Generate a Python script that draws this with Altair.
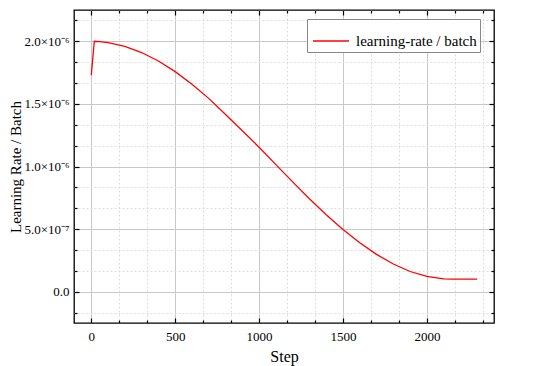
import altair as alt
import pandas as pd

steps = [0, 18, 50, 100, 200, 300, 400, 500, 600, 700, 800, 900, 1000, 1100, 1200,
         1300, 1400, 1500, 1600, 1700, 1800, 1900, 2000, 2100, 2150, 2200, 2300]
lr_e6 = [1.73, 2.0, 1.9975, 1.9899, 1.9602, 1.9102, 1.8423, 1.7575, 1.6577, 1.5441,
         1.4158, 1.2853, 1.1539, 1.0153, 0.8774, 0.7429, 0.6150, 0.4973, 0.3905,
         0.2982, 0.2211, 0.1613, 0.1229, 0.1026, 0.1000, 0.1000, 0.1000]
series_name = "learning-rate / batch"

x_major = [0, 500, 1000, 1500, 2000]
x_minor = [166.67, 333.33, 666.67, 833.33, 1166.67, 1333.33, 1666.67, 1833.33, 2166.67, 2333.33]
y_major = [0.0, 5e-7, 1e-6, 1.5e-6, 2e-6]
y_minor = [-1.6667e-7, 1.6667e-7, 3.3333e-7, 6.6667e-7, 8.3333e-7, 1.16667e-6,
           1.33333e-6, 1.66667e-6, 1.83333e-6, 2.16667e-6]

df = pd.DataFrame({"step": steps, "lr": [v * 1e-6 for v in lr_e6], "series": series_name})

FONT = "Liberation Serif"
xs = alt.Scale(domain=[-103, 2400], nice=False, zero=False)
ys = alt.Scale(domain=[-2.5e-7, 2.25e-6], nice=False, zero=False)

ylabel_expr = ("datum.value == 0 ? '0.0' : (datum.value < 9e-7 ? format(datum.value*1e7,'.1f') + '×10⁻⁷'"
               " : format(datum.value*1e6,'.1f') + '×10⁻⁶')")

main_x = alt.Axis(values=x_major, grid=True, gridColor="#c8c8c8", gridWidth=1, ticks=False,
                  domain=False, labelFont=FONT, labelFontSize=13, labelColor="black",
                  labelPadding=7, format="d", title="Step", titleFont=FONT, titleFontSize=16,
                  titleFontWeight="normal", titleColor="black", titlePadding=5, orient="bottom")
main_y = alt.Axis(values=y_major, grid=True, gridColor="#c8c8c8", gridWidth=1, ticks=False,
                  domain=False, labelFont=FONT, labelFontSize=13, labelColor="black",
                  labelPadding=5, labelExpr=ylabel_expr, title="Learning Rate / Batch",
                  titleFont=FONT, titleFontSize=15, titleFontWeight="normal",
                  titleColor="black", titlePadding=0, orient="left")

main = alt.Chart(df).mark_line(strokeWidth=1.3).encode(
    x=alt.X("step:Q", scale=xs, axis=main_x),
    y=alt.Y("lr:Q", scale=ys, axis=main_y),
    color=alt.Color("series:N", scale=alt.Scale(domain=[series_name], range=["#ff0000"]),
                    legend=alt.Legend(title=None, orient="none", legendX=233, legendY=9,
                                      symbolType="stroke", symbolSize=1300, symbolStrokeWidth=1.5,
                                      labelFont=FONT, labelFontSize=15, labelColor="black",
                                      strokeColor="#888888", fillColor="white", padding=3,
                                      labelOffset=6, symbolOffset=2)),
)


def tick_layer(xvals, yvals, xorient, yorient, size, grid=False):
    common = dict(labels=False, domain=False, title=None)
    if grid:
        xa = alt.Axis(values=xvals, orient=xorient, ticks=False, grid=True, gridColor="#dddddd",
                      gridDash=[2, 2], gridWidth=1, **common)
        ya = alt.Axis(values=yvals, orient=yorient, ticks=False, grid=True, gridColor="#dddddd",
                      gridDash=[2, 2], gridWidth=1, **common)
    else:
        xa = alt.Axis(values=xvals, orient=xorient, ticks=True, tickSize=size, offset=-size,
                      tickColor="black", tickWidth=1.2, grid=False, zindex=2, **common)
        ya = alt.Axis(values=yvals, orient=yorient, ticks=True, tickSize=size, offset=-size,
                      tickColor="black", tickWidth=1.2, grid=False, zindex=2, **common)
    return alt.Chart(df).mark_line(opacity=0).encode(
        x=alt.X("step:Q", scale=xs, axis=xa),
        y=alt.Y("lr:Q", scale=ys, axis=ya),
    )


layers = [
    main,
    tick_layer(x_minor, y_minor, "bottom", "left", 0, grid=True),
    tick_layer(x_major, y_major, "bottom", "left", 5),
    tick_layer(x_minor, y_minor, "bottom", "left", 3),
    tick_layer(x_major, y_major, "top", "right", 5),
    tick_layer(x_minor, y_minor, "top", "right", 3),
]

chart = alt.layer(*layers).resolve_axis(x="independent", y="independent").properties(
    width=420, height=313,
    autosize=alt.AutoSizeParams(type="none"),
    padding={"left": 66, "top": 2, "right": 28, "bottom": 43},
    background="white",
).configure_view(stroke="black", strokeWidth=1.3).configure_axis(
    labelFont=FONT, titleFont=FONT, labelColor="black", titleColor="black"
)

chart.save("out.html", embed_options={"renderer": "svg", "actions": False})
